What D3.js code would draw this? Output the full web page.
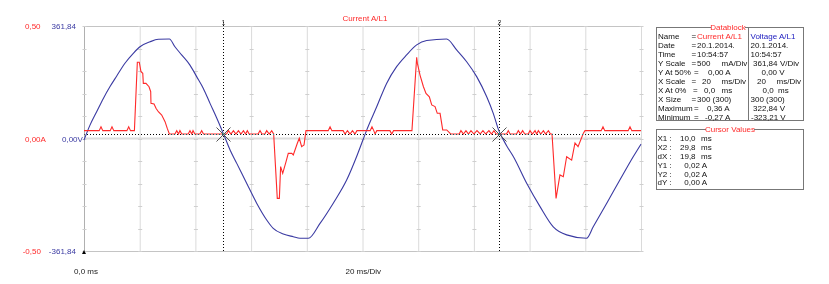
<!DOCTYPE html>
<html>
<head>
<meta charset="utf-8">
<script src="https://cdn.jsdelivr.net/npm/d3@7/dist/d3.min.js"></script>
<style>
  body { margin: 0; background: #fff; }
  text { font-family: "Liberation Sans", Arial, sans-serif; font-size: 8px; }
</style>
</head>
<body>
<svg id="scene"></svg>
<script>
// voltage trace (ms, V)
const voltageTime = [0, 0.43, 0.91, 1.39, 1.87, 2.35, 2.94, 3.54, 4.02, 4.74, 5.34, 6.13, 6.53, 7.01, 7.61, 8.09, 8.57, 9.05, 9.53, 10.06,
    10.49, 10.97, 11.68, 12.4, 13.12, 13.59, 14.31, 15.03, 15.51, 16.11, 16.95, 17.9, 18.87, 19.58, 20.07,
    20.3, 21.02, 21.74, 22.45, 23.17, 23.89, 24.61, 26.04, 26.76, 27.48, 28.2, 28.92, 29.39, 29.82, 30.09,
    30.36, 30.83, 31.79, 32.75, 33.7, 34.66, 36.09, 36.57, 37.54, 38.49, 39.45, 40];
const voltageValues = [-5, 43, 86, 129, 167, 201, 242, 274, 295, 311, 319, 320, 295, 269, 236, 199, 161, 113, 66, 10,
    -37, -80, -144, -208, -262, -289, -307, -316, -321, -321, -273, -208, -133, -58, 0,
    27, 102, 178, 231, 269, 301, 315, 320, 285, 247, 199, 134, 81, 22, -2,
    -24, -58, -144, -219, -284, -310, -321, -284, -208, -133, -58, -18];

// current trace (ms, A)
const currentPoints = [
    [0,0.035],[1.09,0.035],[1.22,0.052],[1.35,0.035],[1.88,0.035],[2.01,0.052],[2.14,0.035],[3.08,0.035],[3.21,0.052],[3.34,0.035],[3.62,0.035],
    [3.83,0.339],[3.97,0.339],[4.09,0.297],[4.22,0.29],[4.26,0.245],[4.45,0.245],[4.67,0.23],[4.79,0.208],[4.81,0.156],[5.03,0.153],[5.17,0.134],
    [5.34,0.119],[5.58,0.104],[5.82,0.075],[5.98,0.045],[6.13,0.02],
    [6.53,0.02],[6.66,0.035],[6.79,0.02],[6.89,0.035],[7.02,0.02],[7.48,0.02],[7.61,0.035],[7.74,0.02],[7.83,0.035],[7.96,0.02],[8.32,0.02],[8.45,0.035],[8.58,0.02],
    [10.24,0.02],[10.37,0.035],[10.55,0.02],[10.73,0.035],[10.91,0.02],[11.09,0.035],[11.27,0.02],[11.45,0.035],[11.6,0.02],[11.73,0.035],[11.86,0.02],
    [12.5,0.02],[12.64,0.035],[12.78,0.02],[12.99,0.02],[13.12,0.035],[13.3,0.02],[13.48,0.035],[13.62,0.02],
    [13.88,-0.266],[14.03,-0.266],[14.12,-0.125],[14.27,-0.155],[14.51,-0.103],[14.67,-0.066],[14.92,-0.066],[15.03,-0.073],[15.32,-0.021],
    [15.46,0.001],[15.63,-0.036],[15.8,-0.029],[15.94,0.035],
    [17.54,0.035],[17.67,0.052],[17.8,0.035],[18.61,0.035],[18.74,0.02],[18.92,0.035],[19.1,0.02],[19.28,0.035],[19.46,0.02],[19.6,0.035],
    [20.55,0.035],[20.68,0.052],[20.81,0.035],[20.9,0.02],[21.03,0.035],[21.97,0.035],[22.1,0.02],[22.23,0.035],[23.55,0.035],
    [23.89,0.361],[23.94,0.335],[24.13,0.282],[24.37,0.231],[24.56,0.2],[24.8,0.185],[24.97,0.149],[25.21,0.142],[25.37,0.112],[25.57,0.112],
    [25.76,0.038],[26.05,0.038],[26.33,0.02],
    [26.94,0.02],[27.07,0.035],[27.25,0.02],[27.43,0.035],[27.61,0.02],[27.79,0.035],[28.0,0.02],[28.22,0.035],[28.45,0.02],[28.65,0.035],
    [28.85,0.02],[29.08,0.035],[29.26,0.02],[29.44,0.035],[29.6,0.02],
    [30.34,0.02],[30.47,0.035],[30.6,0.02],[31.06,0.02],[31.19,0.035],[31.35,0.02],[31.5,0.035],[31.65,0.02],[31.9,0.02],[32.03,0.035],[32.2,0.02],
    [32.39,0.035],[32.5,0.02],[32.63,0.035],[32.8,0.02],[32.99,0.035],[33.15,0.02],[33.35,0.035],[33.5,0.02],[33.61,0.02],
    [33.9,-0.266],[34.18,-0.162],[34.42,-0.17],[34.66,-0.081],[35.02,-0.096],[35.26,-0.02],[35.48,-0.036],[35.86,0.023],[35.98,0.035],
    [37.14,0.035],[37.27,0.052],[37.4,0.035],[39.08,0.035],[39.21,0.052],[39.34,0.035],[40,0.035]
];

const gridTimes = [0, 4, 8, 12, 16, 20, 24, 28, 32, 36, 40];
const currentDivs = [-0.5, -0.4, -0.3, -0.2, -0.1, 0, 0.1, 0.2, 0.3, 0.4, 0.5];
const currentLabels = ["0,50", "0,00A", "-0,50"];
const voltageLabels = ["361,84", "0,00V", "-361,84"];
const cursorTimes = [10.0, 29.8];
const cursorLevel = 0.02;

const dataRows = [
    ["Name", "=", "Current A/L1", "Voltage A/L1"],
    ["Date", "=", "20.1.2014.", "20.1.2014."],
    ["Time", "=", "10:54:57", "10:54:57"],
    ["Y Scale", "=", "500", "361,84"],
    ["Y At 50%", "=", "0,00 A", "0,00 V"],
    ["X Scale", "=", "20", "20"],
    ["X At 0%", "=", "0,0", "0,0"],
    ["X Size", "=", "300 (300)", "300 (300)"],
    ["Maximum", "=", "0,36 A", "322,84 V"],
    ["Minimum", "=", "-0,27 A", "-323,21 V"]
];
const cursorRows = [
    ["X1 :", "10,0", "ms"],
    ["X2 :", "29,8", "ms"],
    ["dX :", "19,8", "ms"],
    ["Y1 :", "0,02 A", ""],
    ["Y2 :", "0,02 A", ""],
    ["dY :", "0,00 A", ""]
];

const RED = '#ff2a2a', BLUE = '#3a3aa2';

function init() {
    let width = 829, height = 284;
    let svg = d3.select('#scene').attr('width', width).attr('height', height);
    svg.append('rect').attr('width', width).attr('height', height).attr('fill', '#fff');

    let x = d3.scaleLinear().domain([0, 40]).range([84, 641]);
    let yCur = d3.scaleLinear().domain([-0.5, 0.5]).range([251, 26]);
    let yVolt = d3.scaleLinear().domain([-361.84, 361.84]).range([251, 26]);

    // grid
    svg.selectAll('line.vgrid').data(gridTimes).enter().append('line')
        .attr('x1', d => x(d) + 0.5).attr('x2', d => x(d) + 0.5)
        .attr('y1', yCur(0.5)).attr('y2', yCur(-0.5))
        .attr('stroke', d => d === 0 ? '#b0b0b0' : '#dadada');
    svg.append('line').attr('x1', x(0)).attr('x2', x(40)).attr('y1', yCur(0.5) + 0.5).attr('y2', yCur(0.5) + 0.5).attr('stroke', '#c4c4c4');
    svg.append('line').attr('x1', x(0)).attr('x2', x(40)).attr('y1', yCur(-0.5) + 0.5).attr('y2', yCur(-0.5) + 0.5).attr('stroke', '#c4c4c4');
    svg.append('line').attr('x1', x(0)).attr('x2', x(40)).attr('y1', yCur(0)).attr('y2', yCur(0)).attr('stroke', '#dcdcdc').attr('stroke-width', 2);
    gridTimes.forEach(t => {
        svg.selectAll(null).data(currentDivs).enter().append('line')
            .attr('x1', x(t) - 1.5).attr('x2', x(t) + 2.5)
            .attr('y1', d => Math.round(yCur(d)) + 0.5).attr('y2', d => Math.round(yCur(d)) + 0.5)
            .attr('stroke', '#cfcfcf');
    });

    // traces
    let vLine = d3.line().x((d, i) => x(voltageTime[i])).y(d => yVolt(d)).curve(d3.curveMonotoneX);
    svg.append('path').attr('d', vLine(voltageValues)).attr('fill', 'none').attr('stroke', BLUE).attr('stroke-width', 1.1);
    let cLine = d3.line().x(d => x(d[0])).y(d => yCur(d[1]));
    svg.append('path').attr('d', cLine(currentPoints)).attr('fill', 'none').attr('stroke', RED).attr('stroke-width', 1.1);

    // cursors (xor-like pen)
    svg.append('line').attr('x1', x(0)).attr('x2', x(40))
        .attr('y1', Math.round(yCur(cursorLevel)) + 0.5).attr('y2', Math.round(yCur(cursorLevel)) + 0.5)
        .attr('stroke', '#fff').attr('stroke-dasharray', '1,2').style('mix-blend-mode', 'difference');
    svg.selectAll('line.cursor').data(cursorTimes).enter().append('line')
        .attr('x1', d => Math.round(x(d)) + 0.5).attr('x2', d => Math.round(x(d)) + 0.5)
        .attr('y1', 22).attr('y2', yCur(-0.5))
        .attr('stroke', '#fff').attr('stroke-dasharray', '1,2').style('mix-blend-mode', 'difference');
    svg.selectAll('text.cnum').data(cursorTimes).enter().append('text')
        .attr('x', d => Math.round(x(d)) + 0.5).attr('y', 25)
        .attr('text-anchor', 'middle').attr('fill', '#333').style('font-size', '7px')
        .text((d, i) => i + 1);
    cursorTimes.forEach(t => {
        let cx = Math.round(x(t)) + 0.5, cy = Math.round(yCur(cursorLevel)) + 0.5;
        svg.append('path').attr('d', `M${cx - 7},${cy - 7}L${cx + 7},${cy + 7}M${cx - 7},${cy + 7}L${cx + 7},${cy - 7}`)
            .attr('stroke', '#555').attr('stroke-width', 1);
    });
    svg.append('path').attr('d', `M${x(0)},${yCur(-0.5) - 1}l-2,4h4z`).attr('fill', '#000');

    // axis labels
    let yPos = [yCur(0.5), yCur(0), yCur(-0.5)];
    svg.selectAll('text.cl').data(currentLabels).enter().append('text')
        .attr('x', (d, i) => i === 2 ? 22.7 : 25).attr('y', (d, i) => yPos[i] + 3)
        .attr('fill', RED).text(d => d);
    svg.selectAll('text.vl').data(voltageLabels).enter().append('text')
        .attr('x', (d, i) => i === 1 ? 62 : 76).attr('y', (d, i) => yPos[i] + 3)
        .attr('text-anchor', (d, i) => i === 1 ? 'start' : 'end')
        .attr('fill', BLUE).text(d => d);
    svg.append('text').attr('x', 74).attr('y', 274).attr('fill', '#222').text('0,0 ms');
    svg.append('text').attr('x', 345.5).attr('y', 274).attr('fill', '#222').text('20 ms/Div');
    svg.append('text').attr('x', 342.5).attr('y', 21).attr('fill', RED).text('Current A/L1');

    // datablock
    let db = svg.append('g');
    db.append('rect').attr('x', 656.5).attr('y', 27.5).attr('width', 147).attr('height', 93).attr('fill', 'none').attr('stroke', '#777');
    db.append('line').attr('x1', 748.5).attr('x2', 748.5).attr('y1', 27.5).attr('y2', 120.5).attr('stroke', '#777');
    db.append('rect').attr('x', 711).attr('y', 23).attr('width', 34).attr('height', 9).attr('fill', '#fff');
    db.append('text').attr('x', 728).attr('y', 30).attr('text-anchor', 'middle').attr('fill', RED).text('Datablock');
    let rowY = i => 38.7 + i * 9.07;
    let eqX = [691.5, 691.5, 691.5, 691.5, 694, 691.5, 693, 691.5, 694, 694];
    let v1X = [697, 697, 697, 697, 708, 702, 704, 697, 707, 705];
    let v2X = [750.5, 750.5, 750.5, 753, 761.5, 757, 762.5, 750.5, 753, 751];
    dataRows.forEach((r, i) => {
        db.append('text').attr('x', 658).attr('y', rowY(i)).attr('fill', '#111').text(r[0]);
        db.append('text').attr('x', eqX[i]).attr('y', rowY(i)).attr('fill', '#111').text(r[1]);
        db.append('text').attr('x', v1X[i]).attr('y', rowY(i)).attr('fill', i === 0 ? RED : '#111').text(r[2]);
        db.append('text').attr('x', v2X[i]).attr('y', rowY(i)).attr('fill', i === 0 ? '#2020c0' : '#111').text(r[3]);
    });
    db.append('text').attr('x', 721.5).attr('y', rowY(3)).attr('fill', '#111').text('mA/Div');
    db.append('text').attr('x', 780).attr('y', rowY(3)).attr('fill', '#111').text('V/Div');
    db.append('text').attr('x', 721.5).attr('y', rowY(5)).attr('fill', '#111').text('ms/Div');
    db.append('text').attr('x', 776.5).attr('y', rowY(5)).attr('fill', '#111').text('ms/Div');
    db.append('text').attr('x', 721.5).attr('y', rowY(6)).attr('fill', '#111').text('ms');
    db.append('text').attr('x', 778).attr('y', rowY(6)).attr('fill', '#111').text('ms');

    // cursor values
    let cv = svg.append('g');
    cv.append('rect').attr('x', 656.5).attr('y', 129.5).attr('width', 147).attr('height', 60).attr('fill', 'none').attr('stroke', '#777');
    cv.append('rect').attr('x', 706).attr('y', 125).attr('width', 48).attr('height', 9).attr('fill', '#fff');
    cv.append('text').attr('x', 730).attr('y', 132).attr('text-anchor', 'middle').attr('fill', RED).text('Cursor Values');
    cursorRows.forEach((r, i) => {
        let yy = 140.7 + i * 8.95;
        cv.append('text').attr('x', 657.5).attr('y', yy).attr('fill', '#111').text(r[0]);
        cv.append('text').attr('x', i < 3 ? 680 : 684.3).attr('y', yy).attr('fill', '#111').text(r[1]);
        if (r[2]) cv.append('text').attr('x', 701).attr('y', yy).attr('fill', '#111').text(r[2]);
    });
}

onload = function () {
    init();
}
</script>
</body>
</html>
